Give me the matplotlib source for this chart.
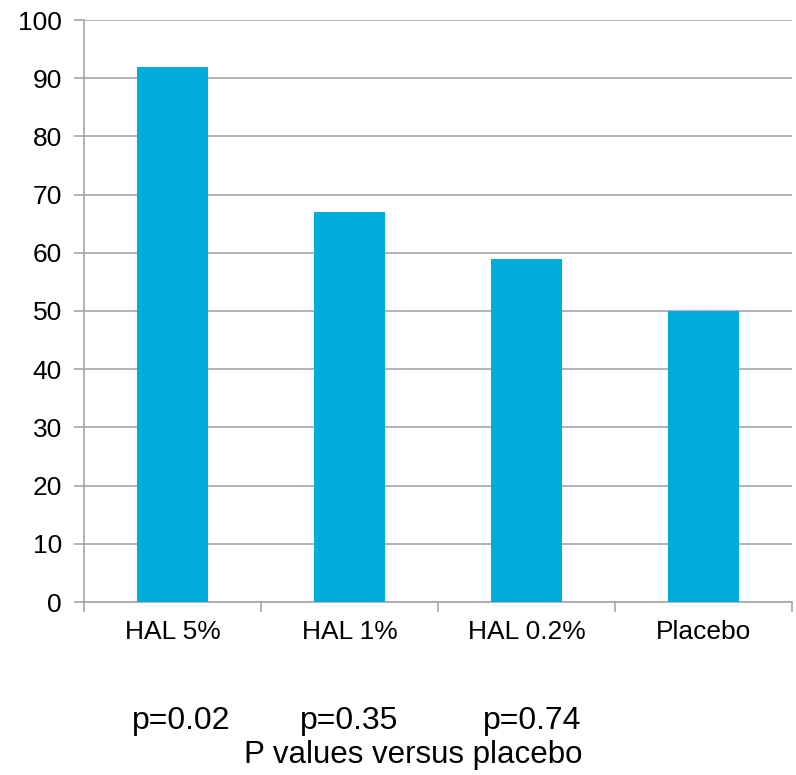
import matplotlib
matplotlib.use("Agg")
import matplotlib.pyplot as plt
import numpy as np

categories = ["HAL 5%", "HAL 1%", "HAL 0.2%", "Placebo"]
values = [92, 67, 59, 50]
y_ticks = [0, 10, 20, 30, 40, 50, 60, 70, 80, 90, 100]
p_labels = ["p=0.02", "p=0.35", "p=0.74"]
footer = "P values versus placebo"

plt.rcParams['font.family'] = ['Liberation Sans', 'DejaVu Sans']

W, H = 796, 775
fig = plt.figure(figsize=(W / 100, H / 100), dpi=100)
left, right, top, bottom = 84, 792, 20, 602
ax = fig.add_axes([left / W, 1 - bottom / H, (right - left) / W, (bottom - top) / H])

grid_c = "#a6a6a6"
x = np.arange(len(categories))
ax.bar(x, values, width=0.4, color="#00acdc", zorder=3)
ax.set_xlim(-0.5, len(categories) - 0.5)
ax.set_ylim(0, 100)
ax.set_yticks(y_ticks)
ax.set_yticklabels([str(v) for v in y_ticks], fontsize=19)
ax.yaxis.grid(True, color=grid_c, linewidth=1.2, zorder=0)
ax.set_axisbelow(True)

ax.set_xticks(x)
ax.set_xticklabels(categories, fontsize=19)
ax.tick_params(axis='x', length=0, pad=13)
ax.set_xticks(np.arange(-0.5, len(categories), 1.0), minor=True)
ax.tick_params(axis='x', which='minor', length=7, color=grid_c, width=1.2)
ax.tick_params(axis='y', length=7, color=grid_c, width=1.2, pad=9)

for s in ["top", "right"]:
    ax.spines[s].set_visible(False)
for s in ["left", "bottom"]:
    ax.spines[s].set_color(grid_c)
    ax.spines[s].set_linewidth(1.2)

p_x = [181, 349, 532]
for px, lab in zip(p_x, p_labels):
    fig.text(px / W, 1 - 729 / H, lab, ha='center', va='baseline', fontsize=23)
fig.text(413 / W, 1 - 763 / H, footer, ha='center', va='baseline', fontsize=22.5)

fig.savefig("out.png", dpi=100)
